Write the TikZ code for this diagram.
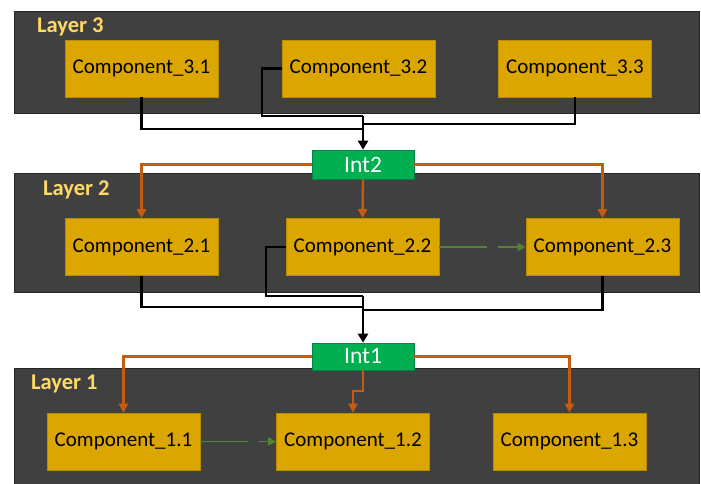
\documentclass[tikz,border=0pt]{standalone}
\usepackage{fontspec}
\setmainfont{Carlito}
\usetikzlibrary{arrows.meta}

\definecolor{sfondoLivello}{HTML}{404040}
\definecolor{bordoLivello}{HTML}{262626}
\definecolor{oro}{HTML}{DCA600}
\definecolor{bordoOro}{HTML}{B88C00}
\definecolor{verdeInt}{HTML}{00B050}
\definecolor{bordoInt}{HTML}{00804A}
\definecolor{arancio}{HTML}{C55A11}
\definecolor{verdeFreccia}{HTML}{548235}
\definecolor{giallo}{HTML}{FFD966}

\begin{document}
\begin{tikzpicture}[x=1pt, y=-1pt,
	livello/.style={draw=bordoLivello, line width=0.8pt, fill=sfondoLivello, rectangle, minimum width=685pt, inner sep=0pt},
	titolo/.style={anchor=base west, inner sep=0pt, text=giallo, font=\fontsize{22.5}{26}\selectfont\bfseries},
	componente/.style={draw=bordoOro, line width=0.6pt, fill=oro, rectangle, minimum width=153pt, minimum height=57pt, inner sep=0pt, font=\fontsize{21}{24}\selectfont, text centered},
	interfaccia/.style={draw=bordoInt, line width=0.6pt, fill=verdeInt, rectangle, minimum width=102pt, inner sep=0pt, text=white, font=\fontsize{23.5}{26}\selectfont},
	filo/.style={draw=black, line width=2.4pt},
	ramo/.style={draw=arancio, line width=2.3pt, -{Triangle[length=9pt,width=9pt]}},
	passo/.style={draw=verdeFreccia, line width=1.8pt, dash pattern=on 48pt off 11pt, -{Triangle[length=8pt,width=8pt]}}]
	
	\useasboundingbox (0,0) rectangle (701,484);
	
	%Disegno i livelli
	\node (terzoLivello) at (356.5,62) [livello, minimum height=102pt]{};
	\node (secondoLivello) at (356.5,232.5) [livello, minimum height=119pt]{};
	\node (primoLivello) at (356.5,429) [livello, minimum height=122pt]{};
	
	\node (titoloTre) at (37,33) [titolo]{Layer 3};
	\node (titoloDue) at (43,195) [titolo]{Layer 2};
	\node (titoloUno) at (31,389) [titolo]{Layer 1};
	
	%Disegno i componenti del terzo livello
	\node (comp31) at (141.5,68.5) [componente]{Component\_3.1};
	\node (comp32) at (358.5,68.5) [componente]{Component\_3.2};
	\node (comp33) at (575,68.5) [componente]{Component\_3.3};
	
	%Disegno i componenti del secondo livello
	\node (comp21) at (141.5,247) [componente]{Component\_2.1};
	\node (comp22) at (362.5,247) [componente]{Component\_2.2};
	\node (comp23) at (602.5,247) [componente]{Component\_2.3};
	
	%Disegno i componenti del primo livello
	\node (comp11) at (123.5,441.5) [componente]{Component\_1.1};
	\node (comp12) at (353,441.5) [componente]{Component\_1.2};
	\node (comp13) at (569.5,441.5) [componente]{Component\_1.3};
	
	%Disegno le interfacce
	\node (secondaInterfaccia) at (363,164.5) [interfaccia, minimum height=29pt]{Int2};
	\node (primaInterfaccia) at (363,356.5) [interfaccia, minimum height=27pt]{Int1};
	
	%Punti di giunzione
	\coordinate (giuntoTreA) at (363,116);
	\coordinate (giuntoTreB) at (363,124);
	\coordinate (giuntoTreC) at (363,129);
	\coordinate (giuntoDueA) at (363,296);
	\coordinate (giuntoDueB) at (363,307);
	\coordinate (giuntoDueC) at (363,310);
	
	%Disegno i collegamenti verso Int2
	\draw[filo] (comp32.west) -- ++(-20,0) |- (giuntoTreA);
	\draw[filo] (comp33.south) |- (giuntoTreB);
	\draw[filo] (comp31.south) |- (giuntoTreC);
	\draw[filo, -{Triangle[length=9pt,width=10pt]}] (giuntoTreA) -- (secondaInterfaccia.north);
	
	%Disegno i collegamenti da Int2
	\draw[ramo] (secondaInterfaccia.west) -| (comp21.north);
	\draw[ramo] (secondaInterfaccia.south) -- (comp22.north);
	\draw[ramo] (secondaInterfaccia.east) -| (comp23.north);
	
	\draw[passo] (comp22.east) -- (comp23.west);
	
	%Disegno i collegamenti verso Int1
	\draw[filo] (comp22.west) -- ++(-20,0) |- (giuntoDueA);
	\draw[filo] (comp21.south) |- (giuntoDueB);
	\draw[filo] (comp23.south) |- (giuntoDueC);
	\draw[filo, -{Triangle[length=9pt,width=10pt]}] (giuntoDueA) -- (primaInterfaccia.north);
	
	%Disegno i collegamenti da Int1
	\draw[ramo] (primaInterfaccia.west) -| (comp11.north);
	\draw[ramo] (primaInterfaccia.south) -- ++(0,21) -| (comp12.north);
	\draw[ramo] (primaInterfaccia.east) -| (comp13.north);
	
	\draw[passo] (comp11.east) -- (comp12.west);
	
\end{tikzpicture}
\end{document}
